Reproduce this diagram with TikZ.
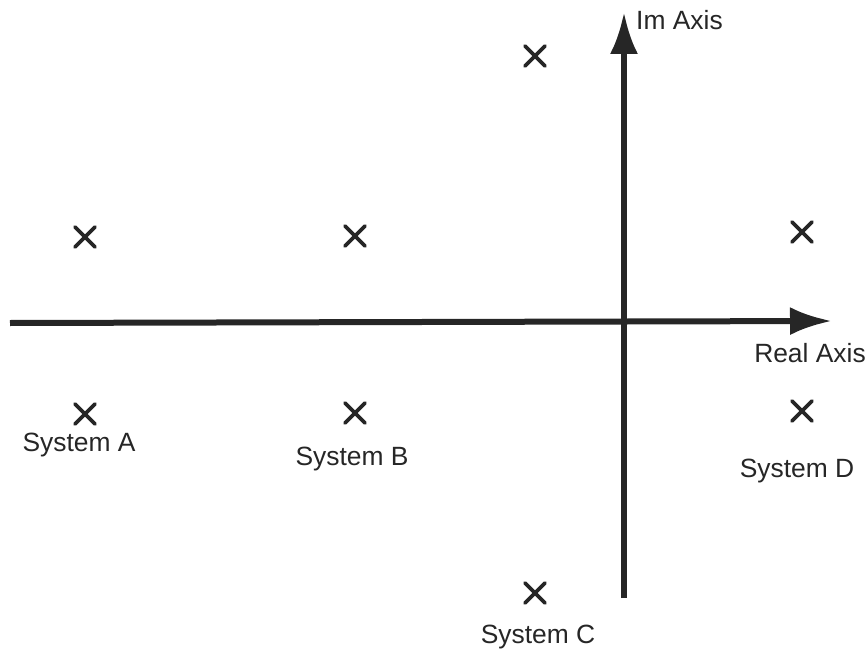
\documentclass[tikz,border=0pt]{standalone}
\usepackage{fontspec}
\setmainfont{Liberation Sans}
\usetikzlibrary{arrows.meta}
\begin{document}
\begin{tikzpicture}[x=1bp,y=-1bp,
  axis/.style={line width=6bp,color=black!85,-{Latex[length=42bp,width=28bp]}},
  lbl/.style={font=\fontsize{26.5}{28}\selectfont,text=black!85,inner sep=0pt,anchor=base},
  pole/.style={line width=3.8bp,color=black!85,line cap=round}]
\useasboundingbox (0,0) rectangle (868,652);
\coordinate (xl) at (10,323);
\coordinate (xr) at (832,321);
\coordinate (yb) at (624,598);
\coordinate (yt) at (624,12);
\draw[axis] (xl) -- (xr);
\draw[axis] (yb) -- (yt);
\newcommand{\polex}[2]{\draw[pole] (#1-10,#2-10) -- (#1+10,#2+10) (#1-10,#2+10) -- (#1+10,#2-10);}
\polex{535}{56}
\polex{85}{237}
\polex{355}{236}
\polex{802}{232}
\polex{85}{414}
\polex{355}{413}
\polex{802}{411}
\polex{535}{593}
\node[lbl,anchor=base west] (im) at (636,30) {Im Axis};
\node[lbl] (re) at (810,362) {Real Axis};
\node[lbl] (sa) at (79,451) {System A};
\node[lbl] (sb) at (352,465) {System B};
\node[lbl] (sd) at (797,477) {System D};
\node[lbl] (sc) at (538,643) {System C};
\end{tikzpicture}
\end{document}
